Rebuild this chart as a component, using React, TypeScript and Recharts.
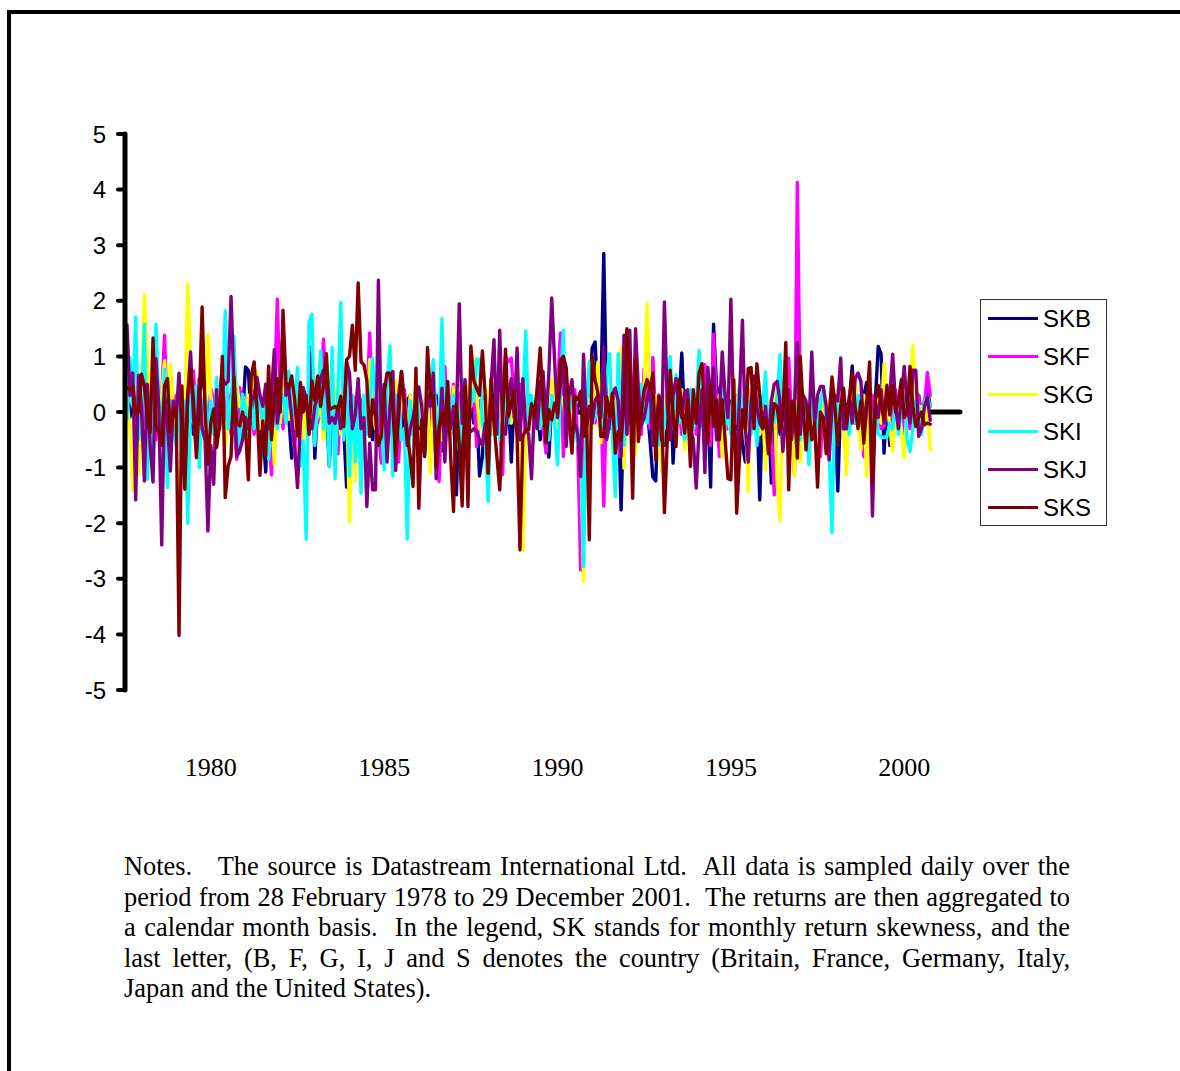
import React from 'react';
import { LineChart, Line, XAxis, YAxis, ReferenceLine } from 'recharts';

const seriesNames = ['SKB', 'SKF', 'SKG', 'SKI', 'SKJ', 'SKS'];
const seriesColors = ['#000080', '#FF00FF', '#FFFF00', '#00FFFF', '#800080', '#800000'];
const yTicks = [-5, -4, -3, -2, -1, 0, 1, 2, 3, 4, 5];
const xTickMonths = [29, 89, 149, 209, 269];
const xTickLabels = ['1980', '1985', '1990', '1995', '2000'];
const noteLines = [
  'Notes.\u00A0\u00A0 The source is Datastream International Ltd.\u00A0 All data is sampled daily over the',
  'period from 28 February 1978 to 29 December 2001.\u00A0 The returns are then aggregated to',
  'a calendar month basis.\u00A0 In the legend, SK stands for monthly return skewness, and the',
  'last letter, (B, F, G, I, J and S denotes the country (Britain, France, Germany, Italy,',
  'Japan and the United States).',
];

const SKB = [
  .3,-.1,.2,-.2,.1,-.3,.2,-.4,.1,-.38,.3,-.2,.1,.3,-.2,-.4,.1,.26,-.3,.1,
  -.2,.3,.2,-.4,.1,.2,.78,.3,-.2,-.3,.1,-.4,.2,.1,-.2,.3,-.1,.2,-.3,.1,
  -.1,.81,.75,-.2,.3,.55,-.5,-.3,-1.08,.2,-.4,.3,.1,-.2,.3,.2,-.1,-.83,.1,.3,
  -.3,.2,.1,-.3,1.17,-.83,.2,-.1,.3,.1,-.97,.2,-.4,.1,.2,-.3,-1.35,.2,-.2,.1,
  .3,-.4,.2,-.2,.1,-.5,.3,.1,-.3,-.8,.2,.1,-.4,.3,-.2,.1,-.5,.2,.3,-.4,
  .1,-.3,.2,-.8,.1,.2,-.4,.3,-.2,-.7,.1,.2,-.4,.1,-1.49,.2,-1.35,.1,-.6,.3,
  -.2,.1,-1.15,-.8,.2,-.6,.1,.3,-.3,.2,-.4,.1,.3,-.9,.2,-.2,.1,.3,-.3,.2,
  .2,-.3,.1,-.5,.2,-.3,-.81,.2,.1,-.4,.2,.5,-.3,.1,.2,-.2,.1,.2,-.3,.1,
  .2,1.15,1.26,.2,.3,2.85,.1,-.3,.2,-.4,.1,-1.76,.2,.3,-.2,.1,.3,-.4,.2,.4,
  .1,-.5,-1.17,-1.24,.3,.2,-.6,.1,.7,-.92,.2,.1,1.06,-.2,.3,-.4,.1,.3,-.2,.2,
  -.4,.2,-1.35,1.58,.5,.2,-.4,.1,-.3,.2,.1,-.3,.2,-.6,-.9,.1,-.2,.3,.1,-1.58,
  .2,-.3,.1,-1.28,.2,.3,-.4,.1,.2,-.3,.1,.2,-.3,.1,.2,-.4,.1,.2,-.3,.1,
  .2,-.3,.1,-.6,.2,.1,-1.42,.2,-.3,.1,.2,.83,-.2,.1,-.2,.3,.53,-.3,.1,.2,
  1.18,1.04,-.74,.2,-.6,.1,.3,-.2,.2,-.3,.1,.2,-.2,.1,.3,-.1,.2,.4,.1,
];
const SKF = [
  .1,.4,.77,-.3,.2,-.4,.3,-.2,.1,.4,-.5,.3,.3,1.38,-.3,.2,-.4,.3,.1,-.3,
  .2,-.3,.1,.74,-.2,.3,.1,-.5,-.37,.43,.2,-.3,.3,.83,-.2,.3,-.4,-.2,-.85,.44,
  .1,-.3,.3,.2,-.4,.1,.3,-.2,.1,-.3,-1.13,.2,2.03,.2,-.3,.4,.1,-.2,-.73,.3,
  -.4,.2,.3,-.3,.1,.4,-.2,.2,1.31,.1,-.3,.5,-.2,-.75,.3,.2,.1,-.4,.3,.2,
  .3,.2,-.4,.1,1.42,-.1,.3,-.3,-.92,.2,.1,-.4,.3,-.2,-.9,.2,.4,-.3,.2,.1,
  -.2,.3,.1,-.4,.2,-.3,.3,.1,-1.25,.2,.82,-.3,.1,.5,-.2,.3,.4,.5,-.3,.2,
  .3,-.62,.2,-.2,.3,.1,-.4,.2,.3,-.3,-1.13,1.0,.9,.97,.2,-.3,.5,.2,-.5,.3,
  .2,-.3,.1,.3,-.3,-.74,.2,.3,-.2,.4,1.42,-.8,.1,.3,-.2,.4,-.5,-2.84,.1,-.3,
  .3,.2,-.2,.4,.2,-1.69,.3,-.2,.4,-.1,-.8,.3,.2,-.4,.3,-.2,.1,.3,-.4,.78,
  .2,-.3,.98,-.2,.3,-.4,.1,.2,-.3,.3,-.2,.1,-.4,.3,.2,-.1,.3,-.4,.1,.2,
  .85,-.3,-.6,1.4,.2,-.8,.85,.2,-.3,.1,-.4,.3,.2,-.3,.1,.4,-.2,.3,.1,-.4,
  .2,-.4,.1,-.3,-1.49,.2,-.3,.2,.4,.97,-.2,-1.13,4.13,.2,-.3,.1,-.2,.3,-.4,.28,
  -.8,.1,-.2,.2,-.1,.4,-.5,.2,.1,-.3,.2,.5,-.2,.3,-.1,-.8,.2,-.1,.3,-.3,
  .2,-.3,-.26,.1,.3,-.2,.4,-.1,.2,-.68,.1,-.3,.2,.1,.3,-.2,.1,.71,.3,
];
const SKG = [
  .2,-.3,-1.42,-.2,-1.12,.3,2.1,.98,.2,-.3,.4,-.2,.3,.92,-.2,.87,.1,-.4,.2,-.3,
  .1,2.3,.9,.2,-.4,.4,.2,-.3,1.39,.3,-.3,.2,-.3,.4,-.6,-.1,.2,-.3,.5,.1,
  .2,-.2,.3,.1,.77,.7,-.3,.2,-.4,.3,.1,-.94,.2,-.2,.5,.1,-.13,.3,-.3,.2,
  .4,-.5,.2,.1,-.2,.6,-.1,.2,-.5,.3,.2,.9,-.3,.6,-.4,.3,.4,-1.97,.3,-1.25,
  .3,-.4,.2,-.2,.94,.1,-.3,.4,.2,-.5,.3,-.2,.1,.57,-.3,.3,.2,-.6,.3,-.2,
  .7,-.2,.2,-.4,.3,-1.1,.2,-.3,.1,-.5,.3,.2,-.4,.45,.2,-.6,.3,-.2,.5,.1,
  1.0,.3,-.3,.2,-.2,.4,.1,-.4,.3,.2,-.3,.5,.1,-.2,.3,-.1,.2,-2.48,-.4,.2,
  .2,-.3,.3,.1,-.2,.3,-.2,.58,.1,-.3,.3,.2,-.2,.4,.1,-.3,-.5,-.6,-3.05,.3,
  .2,-.3,.4,.9,-.55,.2,-.1,.3,-.3,.2,.2,1.15,-1.01,.3,.2,-.4,-.77,.2,.1,.4,
  1.95,.3,-.2,.3,-.4,-1.07,.3,.2,-.4,.5,-.2,.1,.4,-.68,-.1,.3,-.3,.2,.4,-.2,
  .1,-.4,.5,.2,-.3,.3,-.8,.2,-.1,-.4,.67,-.2,.3,-.3,.2,-1.43,.4,-.1,.2,-.4,
  .1,-1.04,.2,-.3,.4,-1.25,-1.96,.46,.1,-.3,.2,-1.16,.2,-.9,.3,-.2,.1,-.4,.2,.28,
  -.2,.3,-.75,.2,-.1,.4,-.2,.72,-.3,-1.13,.2,.1,.6,-.2,-.68,.3,-1.16,.2,-.4,.1,
  .3,-.2,.87,.3,-.3,-.71,.2,.1,-.3,-.83,.1,.5,1.2,.2,-.3,.1,-.2,.1,-.68,
];
const SKI = [
  -.13,.98,.1,1.71,-.5,-.1,1.58,-1.21,.3,-.7,1.58,.2,-.4,.77,-1.36,.2,-.3,-.6,.3,-1.0,
  .2,-2.0,.3,-.2,.47,-1.0,.1,.3,-.5,.2,-.4,.62,-.3,.2,1.82,-.3,.1,1.37,-.2,-.64,
  .32,.1,-.4,.2,-.3,.4,.1,-.2,.3,-.85,-.2,.2,-.3,.1,.3,-.2,.74,-.1,.1,.8,
  -.97,-.52,-2.29,1.62,1.76,-.6,.2,1.1,-.3,.4,-.97,1.16,-1.2,.4,1.97,-.5,.6,-1.15,.3,-.9,
  .2,-1.46,.3,-.4,-.1,.97,.3,.2,-.2,-1.04,.4,1.19,-1.15,.3,.2,-.5,-.3,-2.29,.2,-.4,
  .55,-.1,-.3,-.5,.2,.4,.94,-.2,-.4,1.68,-.3,.5,-.2,.3,.1,-.7,.6,.2,-.3,.4,
  .2,.95,.95,-.2,-.5,-1.61,.3,.5,.2,-.5,-.4,.6,-.2,.3,.4,-.3,.1,.2,1.46,-.2,
  .3,-.2,.1,-.3,.5,.2,-.5,.3,-.2,-.95,.4,1.47,-.4,.1,.2,-.2,-.6,-.3,-2.78,.1,
  .9,-.2,-.1,.3,.2,-.3,.6,1.05,-.4,-1.52,1.05,-.2,-.6,.2,.1,-.3,.4,-.2,.5,.1,
  -.2,.5,.3,-.4,-.6,.2,-.3,.3,1.0,-.3,.67,-.2,.1,-.5,.2,.4,-.3,.1,1.11,-.2,
  -.4,.2,-.1,.3,-.3,.1,.4,-.3,.2,-.4,.3,-.2,.5,-.1,.45,.1,-.4,.2,-.6,.3,
  .1,.72,-.5,.2,-.2,.3,1.03,-.3,.2,-.4,.1,.2,-.3,-.5,.3,-.2,-.95,.3,-.1,-.3,
  .2,.4,-.1,-.7,-2.17,.3,-.1,.2,-.3,.1,-.4,.2,-.2,.3,.1,-.3,.2,.3,-.6,.1,
  -.4,-.44,-.46,-.44,-.2,-.3,.2,-.4,.1,.3,-.5,-.71,-.3,.2,.1,-.4,.2,.28,.1,
];
const SKJ = [
  1.57,.3,.7,-1.58,.66,.1,-1.24,.5,-.6,-1.26,.96,.1,-2.39,.3,-.2,-1.06,.2,-.1,.7,-.4,
  -1.06,.3,1.08,-.1,-.7,.6,-.3,-.5,-2.14,-.6,-1.3,.4,-.3,.6,.5,.55,2.08,.5,-.8,-.7,
  -.5,-.1,-.3,.2,.3,.62,.3,.1,.5,-.3,.35,1.12,-.2,.2,1.49,.3,.4,-.1,-.6,-1.36,
  -.2,.44,.2,-.1,-.3,.1,.3,.6,.75,.5,-.2,-.1,-.2,.1,-.3,-.1,.9,.7,-.3,-.05,
  .6,-.3,-.1,-1.7,-.56,-1.4,-1.4,2.37,-.3,.5,-.9,.1,.73,-1.05,.3,.73,.1,-.6,-.3,-.1,
  .2,.45,.1,-.6,.3,.1,.7,-1.2,-.5,.43,-.9,.2,-.3,.1,-.1,1.95,-.2,.58,-.3,-.35,
  -.3,-.35,-.5,-.6,-.2,-1.1,.5,1.3,-.4,1.47,-.3,-.4,.2,.6,-.1,1.15,-.5,.6,-.3,-.4,
  -1.2,.1,-.3,.5,.73,-.2,.7,2.05,.9,-.1,.5,1.0,-.62,.3,.58,-.2,-.4,-1.16,1.04,-.3,
  .1,-.2,.2,.3,-.1,1.17,-.5,-.2,.3,.43,.2,-.8,1.38,-.4,1.47,-.7,1.5,.4,-.23,-.1,
  .2,.5,-.6,-.3,.2,-.5,1.98,.1,-.5,.3,.6,.1,-.1,.35,.4,-.3,-.5,-1.37,-.3,.4,
  -1.09,.8,.2,.8,-.5,-.1,1.08,.3,-.1,2.03,-.3,-.98,.3,1.65,-.3,-.9,.2,.65,.1,-.2,
  -.3,.1,-.6,.2,.5,.55,.2,-.71,-.1,.4,-.5,.1,1.25,-.4,.3,.2,-.3,1.08,-.2,.3,
  .46,.46,.1,-.86,.1,.3,.2,.97,-.3,-.3,.3,-.2,.6,.7,.55,-.3,.2,.4,-1.87,.2,
  -.1,.4,-.2,.2,.3,1.04,.1,-.3,.3,.82,.1,-.2,.75,.75,-.44,-.3,.1,.27,-.15,
];
const SKS = [
  .44,.4,.47,-.04,0,.68,.47,-.07,-.37,1.33,-.25,-.37,-.6,.47,.6,-.37,.04,.08,-4.02,.47,
  -1.39,.29,.77,.23,-.82,.17,1.89,.05,-.94,-.19,.05,-.64,-.25,1.0,-1.54,-.97,-.8,.62,-.19,-.25,
  0,-.31,-1.22,.65,.9,.05,-1.14,-.16,-.79,.83,-.5,.29,.6,0,1.83,.53,.41,.65,.23,-.43,
  .53,0,.3,-.4,.56,.2,.65,.1,.5,1.05,.04,.07,.1,.04,.28,-.26,.94,1.0,1.56,.75,
  2.32,.9,.85,.57,-.44,.22,-.08,-.6,-.44,.34,.7,.7,.04,-.8,-.08,.73,.16,-.44,-.8,-1.34,
  .79,-1.73,-.14,-.77,1.16,.25,.3,-.98,-.26,-.02,-.26,.55,-.8,-1.79,.15,-.62,-1.69,.45,-1.7,1.19,
  .57,.43,.3,1.1,.27,-1.1,.6,-.2,-.8,-1.4,-.14,1.13,-.08,.16,.37,-.44,-2.48,-.44,-.32,-.32,
  .15,-.08,.46,1.15,.1,-.56,.04,-.14,.16,-.02,.93,1.0,.8,-.08,-.74,.28,.22,.37,-.44,.04,
  -2.3,1.0,.58,.34,-.44,-.44,.28,-.08,.34,-.74,-.35,-.5,.1,1.5,.7,-1.55,.93,-.53,-.02,.4,
  .58,.4,.7,-.86,.28,.04,-1.81,-.5,.75,-.02,-.62,.58,.1,-.38,.22,-.98,.4,-.2,.7,.87,
  -.02,-.56,.5,-.26,.22,-.5,.22,-.5,-1.2,-1.22,.58,-1.82,-.8,.04,-.32,.78,.8,-.3,.87,.3,
  -.3,-.1,-.75,-.3,.15,.1,-.32,-.1,1.25,-1.4,.2,.1,-.83,1.0,.1,-.68,.1,-.5,-.2,-1.35,
  0,-.1,-.75,-.1,.63,.1,-.6,.1,.43,-.2,.2,.7,.1,-.3,.2,-.56,.1,.9,-1.26,.2,
  .48,.1,-.1,.48,-.05,.48,0,.2,.58,-.1,0,.82,.1,-.26,-.1,0,-.23,-.2,-.22,
];

const seriesValues = [SKB, SKF, SKG, SKI, SKJ, SKS];
const rows = SKS.map((_, i) => {
  const row: Record<string, number> = { month: i };
  seriesNames.forEach((n, k) => { row[n] = seriesValues[k][i]; });
  return row;
});

const LegendBox = () => (
  <div style={{ position: 'absolute', left: 980, top: 299, width: 125, height: 225, border: '1px solid #333', background: '#fff', fontFamily: '"Liberation Sans", Arial, sans-serif', fontSize: 24, color: '#000' }}>
    {seriesNames.map((n, i) => (
      <div key={n} style={{ position: 'absolute', left: 7, top: 4 + i * 37.8, height: 30, lineHeight: '30px', whiteSpace: 'nowrap' }}>
        <span style={{ position: 'absolute', left: 0, top: 13, width: 50, height: 3, background: seriesColors[i] }} />
        <span style={{ position: 'absolute', left: 55 }}>{n}</span>
      </div>
    ))}
  </div>
);

export default function App() {
  return (
    <div style={{ position: 'absolute', left: 0, top: 0, width: 1180, height: 1071, background: '#fff', overflow: 'hidden' }}>
      <div style={{ position: 'absolute', left: 7, top: 10, width: 1173, height: 1061, borderLeft: '4px solid #000', borderTop: '4px solid #000', boxSizing: 'border-box' }} />
      <LineChart width={1180} height={1071} data={rows} margin={{ top: 134, right: 220, bottom: 321, left: 0 }} style={{ position: 'absolute', left: 0, top: 0 }}>
        <XAxis dataKey="month" type="number" domain={[-0.7, 288.3]} ticks={xTickMonths} height={60}
          axisLine={false} tickLine={false} interval={0} allowDataOverflow
          tickFormatter={(v: number) => xTickLabels[xTickMonths.indexOf(v)]}
          tick={{ fontFamily: '"Liberation Serif", "Times New Roman", serif', fontSize: 26, fill: '#000', dy: 60 }} />
        <YAxis type="number" domain={[-5, 5]} ticks={yTicks} width={125} interval={0}
          axisLine={{ stroke: '#000', strokeWidth: 5, strokeLinecap: 'round' }}
          tickLine={{ stroke: '#000', strokeWidth: 4, strokeLinecap: 'round' }} tickSize={7}
          tick={{ fontFamily: '"Liberation Sans", Arial, sans-serif', fontSize: 24, fill: '#000', dx: -10 }} />
        <ReferenceLine y={0} stroke="#000" strokeWidth={5} strokeLinecap="round" zIndex={350} />
        {seriesNames.map((n, i) => (
          <Line key={n} dataKey={n} type="linear" stroke={seriesColors[i]} strokeWidth={3.4} strokeLinejoin="round" strokeLinecap="round" dot={false} activeDot={false} isAnimationActive={false} />
        ))}
      </LineChart>
      <LegendBox />
      <div style={{ position: 'absolute', left: 124, top: 851, width: 946, fontFamily: '"Liberation Serif", "Times New Roman", serif', fontSize: 26.4, lineHeight: '30.6px', color: '#000' }}>
        {noteLines.map((t, i) => (
          <div key={i} style={{ textAlign: 'justify', textAlignLast: i < noteLines.length - 1 ? 'justify' : 'left', whiteSpace: 'normal' }}>{t}</div>
        ))}
      </div>
    </div>
  );
}
